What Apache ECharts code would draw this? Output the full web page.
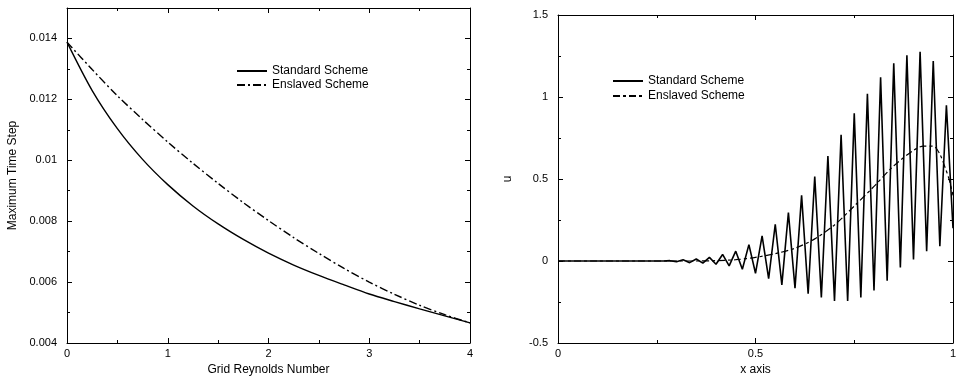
<!DOCTYPE html>
<html>
<head>
<meta charset="utf-8">
<script src="https://cdn.jsdelivr.net/npm/echarts@6/dist/echarts.min.js"></script>
<style>
html,body{margin:0;padding:0;background:#fff;}
#c{width:961px;height:376px;}
</style>
</head>
<body>
<div id="c"></div>
<script>
// ---- Left panel data ----
const reynolds = [0,0.25,0.5,0.75,1,1.25,1.5,1.75,2,2.25,2.5,2.75,3,3.25,3.5,3.75,4];
const stdTimeStep = [0.01388,0.01229,0.01104,0.01003,0.00920,0.00850,0.00791,0.00740,0.00695,0.00656,0.00622,0.00591,0.00561,0.00536,0.00512,0.00489,0.00466];
const ensTimeStep = [0.01388,0.01298,0.01212,0.01134,0.01060,0.00990,0.00924,0.00861,0.00802,0.00746,0.00694,0.00645,0.00600,0.00560,0.00524,0.00493,0.00466];

// ---- Right panel data ----
const xGrid = [0,0.0167,0.0333,0.05,0.0667,0.0833,0.1,0.1167,0.1333,0.15,
  0.1667,0.1833,0.2,0.2167,0.2333,0.25,0.2667,0.2833,0.3,0.3167,
  0.3333,0.35,0.3667,0.3833,0.4,0.4167,0.4333,0.45,0.4667,0.4833,
  0.5,0.5167,0.5333,0.55,0.5667,0.5833,0.6,0.6167,0.6333,0.65,
  0.6667,0.6833,0.7,0.7167,0.7333,0.75,0.7667,0.7833,0.8,0.8167,
  0.8333,0.85,0.8667,0.8833,0.9,0.9167,0.9333,0.95,0.9667,0.9833,1];
const uStandard = [0,0,0,0,0,0,0,0,0,0,
  0,0,0,0,0,0,0,0.002,-0.004,0.007,
  -0.01,0.012,-0.013,0.022,-0.02,0.04,-0.03,0.06,-0.05,0.10,
  -0.075,0.153,-0.107,0.224,-0.146,0.295,-0.166,0.40,-0.20,0.515,
  -0.223,0.64,-0.244,0.77,-0.244,0.90,-0.223,1.02,-0.18,1.12,
  -0.12,1.205,-0.04,1.255,0.01,1.275,0.06,1.22,0.09,0.95,0.2];
const xEnslaved = [0,0.1,0.2,0.3,0.35,0.4,0.45,0.5,0.55,0.6,0.65,0.7,0.75,0.8,0.85,0.9,0.925,0.95,0.967,0.98,0.99,1.0];
const uEnslaved = [0,0,0,0,0,0.002,0.008,0.022,0.045,0.078,0.135,0.22,0.335,0.455,0.58,0.675,0.70,0.70,0.65,0.57,0.50,0.40];

const seriesNames = ['Standard Scheme','Enslaved Scheme'];

const FONT = 'Liberation Sans, Arial, Helvetica, sans-serif';
const zip = (a,b) => a.map((v,i)=>[v,b[i]]);
const fmt = v => String(+v.toFixed(4));

function mainAxis(extra){
  return Object.assign({
    type:'value',
    axisLine:{show:true,onZero:false,lineStyle:{color:'#000',width:1}},
    axisTick:{show:true,inside:true,length:5,lineStyle:{color:'#000'}},
    minorTick:{show:true,splitNumber:2,length:3,lineStyle:{color:'#000'}},
    splitLine:{show:false},
    minorSplitLine:{show:false},
    nameTextStyle:{color:'#000',fontFamily:FONT,fontSize:12},
    nameLocation:'middle'
  }, extra);
}
function mirrorAxis(extra){
  return Object.assign({
    type:'value',
    axisLine:{show:true,onZero:false,lineStyle:{color:'#000',width:1}},
    axisTick:{show:true,inside:true,length:5,lineStyle:{color:'#000'}},
    minorTick:{show:true,splitNumber:2,length:3,lineStyle:{color:'#000'}},
    splitLine:{show:false},
    axisLabel:{show:false}
  }, extra);
}
const xLab = {color:'#000',fontFamily:FONT,fontSize:11,margin:5,formatter:fmt};
const legendCommon = {
  orient:'vertical',itemWidth:30,itemHeight:10,selectedMode:false,
  textStyle:{color:'#000',fontFamily:FONT,fontSize:12},
  itemStyle:{color:'rgba(0,0,0,0)',borderColor:'rgba(0,0,0,0)',borderWidth:0}
};

const option = {
  backgroundColor:'#fff',
  animation:false,
  grid:[
    {left:67,right:491,top:8,bottom:33,outerBoundsMode:'none',containLabel:false},
    {left:558,right:8,top:15,bottom:33,outerBoundsMode:'none',containLabel:false}
  ],
  xAxis:[
    mainAxis({gridIndex:0,min:0,max:4,interval:1,position:'bottom',name:'Grid Reynolds Number',nameGap:20,axisLabel:xLab}),
    mirrorAxis({gridIndex:0,min:0,max:4,interval:1,position:'top'}),
    mainAxis({gridIndex:1,min:0,max:1,interval:0.5,position:'bottom',name:'x axis',nameGap:20,axisLabel:xLab}),
    mirrorAxis({gridIndex:1,min:0,max:1,interval:0.5,position:'top'})
  ],
  yAxis:[
    mainAxis({gridIndex:0,min:0.004,max:0.015,interval:0.002,position:'left',name:'Maximum Time Step',nameGap:48,axisLabel:{color:'#000',fontFamily:FONT,fontSize:11,margin:10,showMaxLabel:false,formatter:fmt}}),
    mirrorAxis({gridIndex:0,min:0.004,max:0.015,interval:0.002,position:'right'}),
    mainAxis({gridIndex:1,min:-0.5,max:1.5,interval:0.5,position:'left',name:'u',nameGap:44,axisLabel:{color:'#000',fontFamily:FONT,fontSize:11,margin:10,formatter:fmt}}),
    mirrorAxis({gridIndex:1,min:-0.5,max:1.5,interval:0.5,position:'right'})
  ],
  legend:[
    Object.assign({data:[seriesNames[0],seriesNames[1]],left:231,top:60,itemGap:2,formatter:n=>n}, legendCommon),
    Object.assign({data:[seriesNames[0]+' ',seriesNames[1]+' '],left:607,top:70,itemGap:3,formatter:n=>n.trim()}, legendCommon)
  ],
  series:[
    {name:seriesNames[0],type:'line',xAxisIndex:0,yAxisIndex:0,data:zip(reynolds,stdTimeStep),smooth:0.3,symbol:'none',
     lineStyle:{color:'#000',width:1.4,type:'solid'},itemStyle:{color:'#000'}},
    {name:seriesNames[1],type:'line',xAxisIndex:0,yAxisIndex:0,data:zip(reynolds,ensTimeStep),smooth:0.3,symbol:'none',
     lineStyle:{color:'#000',width:1.4,type:[8,3,2,3]},itemStyle:{color:'#000'}},
    {name:seriesNames[0]+' ',type:'line',xAxisIndex:2,yAxisIndex:2,data:zip(xGrid,uStandard),symbol:'none',
     lineStyle:{color:'#000',width:1.6,type:'solid'},itemStyle:{color:'#000'}},
    {name:seriesNames[1]+' ',type:'line',xAxisIndex:2,yAxisIndex:2,data:zip(xEnslaved,uEnslaved),smooth:0.3,symbol:'none',
     lineStyle:{color:'#000',width:1.2,type:[7,3,3,3]},itemStyle:{color:'#000'}}
  ]
};
const chart = echarts.init(document.getElementById('c'),null,{renderer:'canvas'});
chart.setOption(option);
</script>
</body>
</html>
